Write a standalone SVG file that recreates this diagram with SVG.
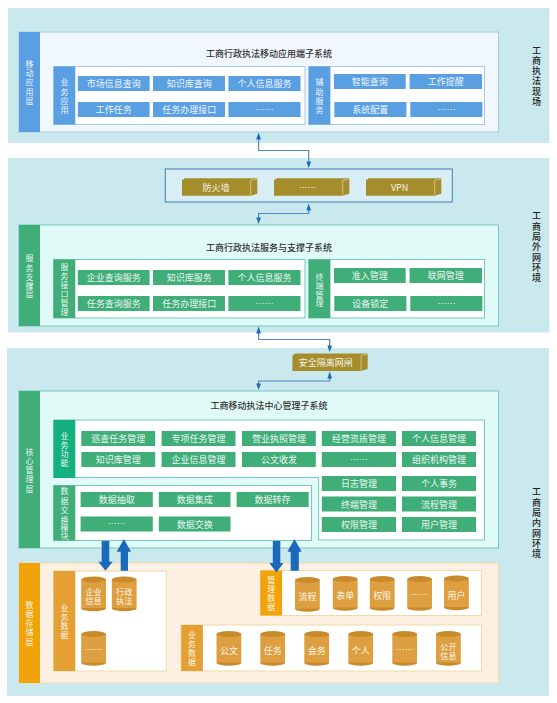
<svg xmlns="http://www.w3.org/2000/svg" width="557" height="703" viewBox="0 0 557 703">
<style>
text{font-family:"Noto Sans CJK SC","Noto Sans",sans-serif}
.zone{fill:#c9e9ef}
.bp{fill:#f1f7fe;stroke:#a5cbe0;stroke-width:1}
.gp{fill:#e0fbf7;stroke:#76c9b9;stroke-width:1}
.op{fill:#fdf0e3;stroke:#ecdca8;stroke-width:1}
.bs{fill:#fff;stroke:#a5cbe0;stroke-width:1}
.gs{fill:#fff;stroke:#76c9b9;stroke-width:1}
.os{fill:#fff;stroke:#ecdca8;stroke-width:1}
.b{fill:#5b9fe3}
.g{fill:#3fae78}
.o1{fill:#f0a30a}
.o2{fill:#e5a033}
.t{font-size:9px;fill:#fff;text-anchor:middle;fill-opacity:.92}
.c{font-size:8.2px;fill:#fff;text-anchor:middle;fill-opacity:.92}
.v{font-size:8px;fill:#fff;text-anchor:middle;fill-opacity:.92}
.title{font-size:9px;fill:#333;text-anchor:middle;font-weight:500}
.env{font-size:9px;fill:#222;text-anchor:middle;font-weight:500}
.cf{fill:#dd9f3f}
.ct{fill:#c98a2c}
.df{fill:#a68d2c}
.dl{fill:none;stroke:#d8cf9a;stroke-width:.8}
.line{fill:none;stroke:#4f8ac4;stroke-width:1.2}
.ah{fill:#1f6bb5}
.big{fill:#1b69bb}
</style>
<defs>
<g id="cyl"><ellipse class="ct" cx="12.400" cy="31.700" rx="12.400" ry="3"/><rect class="cf" x="0" y="3" width="24.800" height="28.500"/><ellipse class="ct" cx="12.400" cy="3" rx="12.400" ry="3"/></g>
<g id="dev"><path class="df" d="M0 2L3 0H75.300V15.500L68.700 17.400H0Z"/><path class="dl" d="M68.700 2V17M68.700 2L75 .5"/></g>
</defs>

<g id="zones">
<rect class="zone" x="8" y="8" width="541.500" height="135"/>
<rect class="zone" x="8" y="158" width="541.500" height="174.500"/>
<rect class="zone" x="7" y="348" width="542" height="348"/>
</g>

<g id="env-labels">
<text class="env" x="536.400 536.400 536.400 536.400 536.400 536.400" y="53.500 63.800 74 84.300 94.500 104.800">工商执法现场</text>
<text class="env" x="536.400 536.400 536.400 536.400 536.400 536.400 536.400" y="219 229.500 240 250 260.500 271 281">工商局外网环境</text>
<text class="env" x="536.400 536.400 536.400 536.400 536.400 536.400 536.400" y="495 505.500 516 526 536.500 547 557">工商局内网环境</text>
</g>

<g id="connectors">
<path class="line" d="M258.600 136V150.500H308.700V164"/>
<path class="line" d="M308.700 207V213.500H258.600V220"/>
<path class="line" d="M258.600 330V339.500H329.700V348"/>
<path class="line" d="M329.700 375V381H258.600V386"/>
<path class="ah" d="M258.600 132.500L261 139.500H256.200Z"/><path class="ah" d="M308.700 168L306.300 161.500H311.100Z"/>
<path class="ah" d="M308.700 203.500L311.100 210.500H306.300Z"/><path class="ah" d="M258.600 224L256.200 217.500H261Z"/>
<path class="ah" d="M258.600 326.500L261 333.500H256.200Z"/><path class="ah" d="M329.700 352L327.300 345.500H332.100Z"/>
<path class="ah" d="M329.700 371.500L332.100 378.500H327.300Z"/><path class="ah" d="M258.600 390L256.200 383.500H261Z"/>
</g>

<g id="layer-mobile">
<rect class="bp" x="19" y="32" width="479.500" height="100"/>
<rect class="b" x="19" y="32" width="21" height="100"/>
<text class="v" x="29.500 29.500 29.500 29.500 29.500" y="66.500 75.800 85.200 94.500 103.800">移动应用层</text>
<text class="title" x="269" y="56.500">工商行政执法移动应用端子系统</text>
<rect class="bs" x="53.600" y="66.500" width="251.400" height="58"/>
<rect class="b" x="53.600" y="66.500" width="21.700" height="58"/>
<text class="v" x="64.500 64.500 64.500 64.500" y="85.300 94.500 103.500 112.800">业务应用</text>
<rect class="b" x="77.800" y="76" width="71.800" height="15"/><text class="t" x="113.700" y="87">市场信息查询</text>
<rect class="b" x="153" y="76" width="72" height="15"/><text class="t" x="189.200" y="87">知识库查询</text>
<rect class="b" x="228.400" y="76" width="72.100" height="15"/><text class="t" x="264.500" y="87">个人信息服务</text>
<rect class="b" x="77.800" y="102" width="71.800" height="15"/><text class="t" x="113.700" y="113">工作任务</text>
<rect class="b" x="153" y="102" width="72" height="15"/><text class="t" x="189.200" y="113">任务办理接口</text>
<rect class="b" x="228.400" y="102" width="72.100" height="15"/><text class="t" x="264.500" y="112.500">……</text>
<rect class="bs" x="308.700" y="66.500" width="175.800" height="58"/>
<rect class="b" x="308.700" y="66.500" width="21.700" height="58"/>
<text class="v" x="319.500 319.500 319.500 319.500" y="85.300 94.500 103.500 112.800">辅助服务</text>
<rect class="b" x="334" y="74" width="71.700" height="15"/><text class="t" x="369.800" y="85">智能查询</text>
<rect class="b" x="409.600" y="74" width="72.400" height="15"/><text class="t" x="445.800" y="85">工作提醒</text>
<rect class="b" x="334.300" y="102" width="72.100" height="15"/><text class="t" x="370.300" y="113">系统配置</text>
<rect class="b" x="410.300" y="102" width="72.100" height="15"/><text class="t" x="446.400" y="112.500">……</text>
</g>

<g id="firewall">
<rect x="165.300" y="169" width="287" height="33" fill="#d8eef4" stroke="#3f7fb5" stroke-width="1"/>
<use href="#dev" x="182" y="178.300"/><text class="t" x="216" y="191">防火墙</text>
<use href="#dev" x="274" y="178.300"/><text class="t" x="307.600" y="190.500">……</text>
<use href="#dev" x="366" y="178.300"/><text class="t" x="399.600" y="191">VPN</text>
</g>

<g id="layer-service">
<rect class="gp" x="19" y="225" width="479.500" height="101"/>
<rect class="g" x="19" y="225" width="21" height="101"/>
<text class="v" x="29.500 29.500 29.500 29.500 29.500" y="261.300 270.700 279.700 288.700 297">服务支撑层</text>
<text class="title" x="269" y="250.500">工商行政执法服务与支撑子系统</text>
<rect class="gs" x="53.600" y="259.500" width="251.400" height="58.500"/>
<rect class="g" x="53.600" y="259.500" width="21.700" height="58.500"/>
<text class="v" x="64.500 64.500 64.500 64.500 64.500 64.500" y="269.700 279 288.300 297.300 306.300 315.300">服务接口管理</text>
<rect class="g" x="77.800" y="270" width="71.800" height="15"/><text class="t" x="113.700" y="281">企业查询服务</text>
<rect class="g" x="153" y="270" width="72" height="15"/><text class="t" x="189.200" y="281">知识库服务</text>
<rect class="g" x="228.400" y="270" width="72.100" height="15"/><text class="t" x="264.500" y="281">个人信息服务</text>
<rect class="g" x="77.800" y="296" width="71.800" height="15"/><text class="t" x="113.700" y="307">任务查询服务</text>
<rect class="g" x="153" y="296" width="72" height="15"/><text class="t" x="189.200" y="307">任务办理接口</text>
<rect class="g" x="228.400" y="296" width="72.100" height="15"/><text class="t" x="264.500" y="306.500">……</text>
<rect class="gs" x="308.700" y="259.500" width="175.800" height="58.500"/>
<rect class="g" x="308.700" y="259.500" width="21.700" height="58.500"/>
<text class="v" x="319.500 319.500 319.500 319.500" y="279.700 288.700 297.700 306.300">终端管理</text>
<rect class="g" x="334" y="268" width="71.700" height="15"/><text class="t" x="369.800" y="279">准入管理</text>
<rect class="g" x="409.600" y="268" width="72.400" height="15"/><text class="t" x="445.800" y="279">联网管理</text>
<rect class="g" x="334.300" y="296" width="72.100" height="15"/><text class="t" x="370.300" y="307">设备锁定</text>
<rect class="g" x="410.300" y="296" width="72.100" height="15"/><text class="t" x="446.400" y="306.500">……</text>
</g>

<g id="gateway">
<use href="#dev" x="292.400" y="353.500"/><text class="t" x="325.800" y="366">安全隔离网闸</text>
</g>

<g id="layer-core">
<rect class="gp" x="19" y="391" width="479.500" height="157"/>
<rect class="g" x="19" y="391" width="21" height="157"/>
<text class="v" x="29.500 29.500 29.500 29.500 29.500" y="454.700 464 473 482.300 491.700">核心管理层</text>
<text class="title" x="269" y="409">工商移动执法中心管理子系统</text>
<path class="gs" d="M53.600 420H484.500V540H318.700V477.500H53.600Z"/>
<rect x="53.600" y="420" width="21.700" height="58" fill="#14b07f"/>
<text class="v" x="64.500 64.500 64.500 64.500" y="438.700 448 457 466.300">业务功能</text>
<rect class="g" x="81.300" y="431" width="73.900" height="15"/><text class="t" x="118.300" y="442">巡查任务管理</text>
<rect class="g" x="161.600" y="431" width="73.900" height="15"/><text class="t" x="198.600" y="442">专项任务管理</text>
<rect class="g" x="242" y="431" width="73.800" height="15"/><text class="t" x="279" y="442">营业执照管理</text>
<rect class="g" x="321.800" y="431" width="74.200" height="15"/><text class="t" x="359" y="442">经营资质管理</text>
<rect class="g" x="402" y="431" width="74" height="15"/><text class="t" x="439" y="442">个人信息管理</text>
<rect class="g" x="81.300" y="452" width="73.900" height="15"/><text class="t" x="118.300" y="463">知识库管理</text>
<rect class="g" x="161.600" y="452" width="73.900" height="15"/><text class="t" x="198.600" y="463">企业信息管理</text>
<rect class="g" x="242" y="452" width="73.800" height="15"/><text class="t" x="279" y="463">公文收发</text>
<rect class="g" x="321.800" y="452" width="74.200" height="15"/><text class="t" x="359" y="462.500">……</text>
<rect class="g" x="402" y="452" width="74" height="15"/><text class="t" x="439" y="463">组织机构管理</text>
<rect class="g" x="321.800" y="476" width="74.200" height="15"/><text class="t" x="359" y="487">日志管理</text>
<rect class="g" x="402" y="476" width="74" height="15"/><text class="t" x="439" y="487">个人事务</text>
<rect class="g" x="321.800" y="496.500" width="74.200" height="15"/><text class="t" x="359" y="507.500">终端管理</text>
<rect class="g" x="402" y="496.500" width="74" height="15"/><text class="t" x="439" y="507.500">流程管理</text>
<rect class="g" x="321.800" y="517" width="74.200" height="15"/><text class="t" x="359" y="528">权限管理</text>
<rect class="g" x="402" y="517" width="74" height="15"/><text class="t" x="439" y="528">用户管理</text>
<rect class="gs" x="53.600" y="485.500" width="257.900" height="55"/>
<rect class="g" x="53.600" y="485.500" width="21.700" height="55"/>
<text class="v" x="64.500 64.500 64.500 64.500 64.500 64.500" y="494 503.700 513 522.500 530.700 539">数据交换模块</text>
<rect class="g" x="80.600" y="492" width="72.200" height="15"/><text class="t" x="116.700" y="503">数据抽取</text>
<rect class="g" x="158.800" y="492" width="71.700" height="15"/><text class="t" x="194.700" y="503">数据集成</text>
<rect class="g" x="236.600" y="492" width="72.100" height="15"/><text class="t" x="272.600" y="503">数据转存</text>
<rect class="g" x="80.600" y="516.500" width="72.200" height="15"/><text class="t" x="116.700" y="527">……</text>
<rect class="g" x="158.800" y="516.500" width="71.700" height="15"/><text class="t" x="194.700" y="527.500">数据交换</text>
</g>

<g id="layer-storage">
<rect class="op" x="19" y="563" width="479.500" height="120"/>
<rect class="o1" x="19" y="563" width="21" height="120"/>
<text class="v" x="29.500 29.500 29.500 29.500 29.500" y="608 617 626 635.300 644.700">数据存储层</text>
<rect class="os" x="53.600" y="571" width="112.700" height="100"/>
<rect class="o2" x="53.600" y="571" width="21.700" height="100"/>
<text class="v" x="64.500 64.500 64.500 64.500" y="611.300 620.300 629 638">业务数据</text>
<use href="#cyl" x="81.200" y="576.500"/><text class="c" x="93.600" y="594.500">企业</text><text class="c" x="93.600" y="603.500">信息</text>
<use href="#cyl" x="111.800" y="576.500"/><text class="c" x="124.200" y="594.500">行政</text><text class="c" x="124.200" y="603.500">执法</text>
<use href="#cyl" x="81.200" y="631"/><text class="t" x="93.600" y="653">……</text>
<rect class="os" x="260.400" y="570.500" width="221" height="45"/>
<rect class="o1" x="260.400" y="570.500" width="21.700" height="45"/>
<text class="v" x="271.200 271.200 271.200 271.200" y="583.300 592 601.300 610.300">管理数据</text>
<use href="#cyl" x="295" y="577"/><text class="t" x="307.400" y="600">流程</text>
<use href="#cyl" x="332.800" y="576"/><text class="t" x="345.200" y="598.500">表单</text>
<use href="#cyl" x="369.800" y="576"/><text class="t" x="382.200" y="598.500">权限</text>
<use href="#cyl" x="407.200" y="576"/><text class="t" x="419.600" y="598">……</text>
<use href="#cyl" x="444" y="575.500"/><text class="t" x="456.400" y="598.500">用户</text>
<rect class="os" x="181.200" y="625" width="300.200" height="46"/>
<rect class="o2" x="181.200" y="625" width="21.700" height="46"/>
<text class="v" x="192 192 192 192" y="638 647 656 665.300">业务数据</text>
<use href="#cyl" x="216.500" y="631"/><text class="t" x="228.900" y="654">公文</text>
<use href="#cyl" x="260.300" y="631"/><text class="t" x="272.700" y="654">任务</text>
<use href="#cyl" x="304.300" y="631"/><text class="t" x="316.700" y="654">会务</text>
<use href="#cyl" x="348.300" y="631"/><text class="t" x="360.700" y="654">个人</text>
<use href="#cyl" x="392.300" y="631"/><text class="t" x="404.700" y="653">……</text>
<use href="#cyl" x="436" y="631"/><text class="c" x="448.400" y="649.500">公开</text><text class="c" x="448.400" y="658.500">信息</text>
</g>

<g id="data-arrows">
<path class="big" d="M101.700 541H109.300V561.700H112.700L105.500 570.700L98.300 561.700H101.700Z"/>
<path class="big" d="M120.700 570.700V551.700H116.700L123.900 539L131 551.700H128V570.700Z"/>
<path class="big" d="M272.800 541H280.300V563H283.500L276.400 572.500L269.300 563H272.800Z"/>
<path class="big" d="M290.700 570.700V551.700H287.400L294.500 539L301.600 551.700H298.800V570.700Z"/>
</g>
</svg>
